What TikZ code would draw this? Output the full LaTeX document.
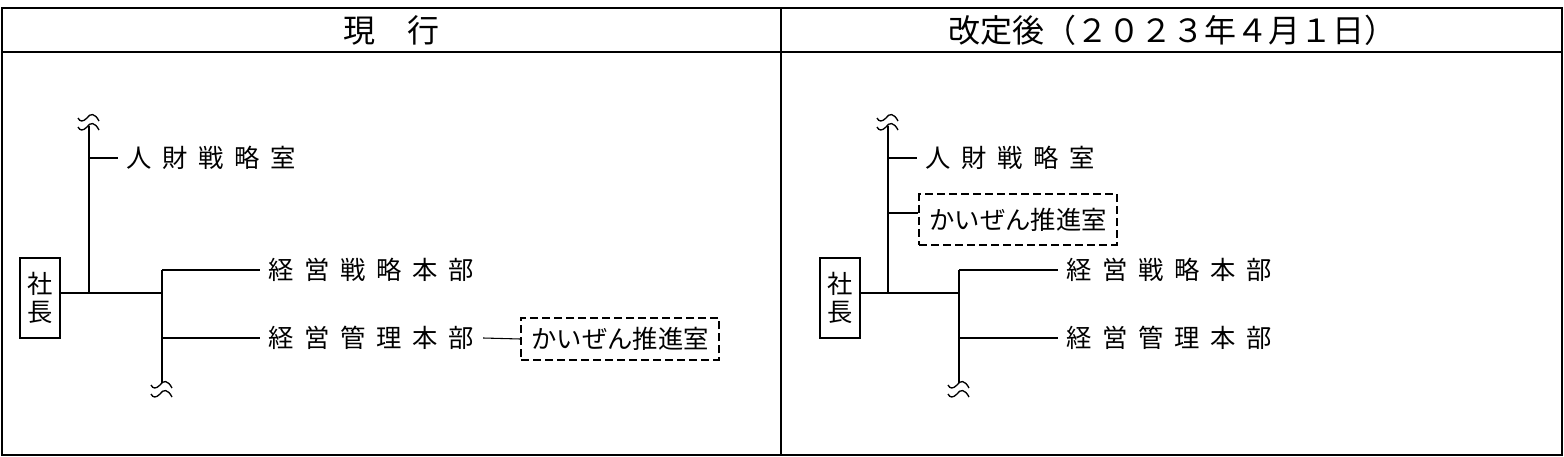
\documentclass[tikz,border=0pt]{standalone}
\usepackage{fontspec}
\newfontfamily\jpfont{Noto Sans CJK JP}
\usetikzlibrary{positioning}
\newcommand\bodyfont{\jpfont\fontsize{19pt}{21pt}\selectfont}
\newcommand\widegap{\spaceskip=8pt\relax}

\begin{document}
\begin{tikzpicture}[
    x=0.75pt, y=-0.75pt,
    font=\bodyfont,
    frame/.style={line width=1.5pt},
    link/.style={line width=0.8pt},
    boss/.style={draw, line width=1.3pt, align=center, inner sep=0pt, minimum width=30pt, minimum height=60pt},
    unit/.style={anchor=west, inner xsep=6.5pt, inner ysep=0pt, font=\bodyfont\widegap},
    newunit/.style={draw, dash pattern=on 6pt off 3pt, line width=1.5pt, minimum width=148pt, inner sep=0pt},
    head/.style={font=\jpfont\fontsize{24pt}{28pt}\selectfont},
    brk/.pic={
      \foreach \dy in {0,9}
        \draw[line width=1pt] (-11,\dy) .. controls (-9,\dy+4) and (-6,\dy+4) .. (-2,\dy) .. controls (1,\dy-5) and (6,\dy-5) .. (10,\dy+3);
    }
  ]
    \useasboundingbox (0,0) rectangle (1564,457);
    \draw[frame] (2,8) rectangle (1562,455);
    \draw[line width=2pt] (2,52) -- (1562,52);
    \draw[frame] (781,8) -- (781,455);
    \node[head] (headL) at (391,30) {現　行};
    \node[head] (headR) at (1172,30) {改定後（２０２３年４月１日）};

    % current
    \node[boss] (bossL) at (40,298) {社\\長};
    \coordinate (jL) at (89,293);
    \coordinate (tL) at (89,126);
    \coordinate (kL) at (162,293);
    \coordinate (bL) at (162,383);
    \node[unit] (hrL) at (118,158) {人 財 戦 略 室};
    \node[unit] (spL) at (260,270) {経 営 戦 略 本 部};
    \node[unit] (mgL) at (260,338) {経 営 管 理 本 部};
    \node[newunit, minimum height=31.5pt] (kzL) at (620,339) {かいぜん推進室};
    \draw[link] (bossL.east |- jL) -- (kL);
    \draw[link] (jL) -- (tL);
    \draw[link] (jL |- hrL) -- (hrL.west);
    \draw[link] (kL |- spL) -- (bL);
    \draw[link] (kL |- spL) -- (spL.west);
    \draw[link] (kL |- mgL) -- (mgL.west);
    \draw[link] (mgL.east) -- (kzL.west);
    \pic at (89,118) {brk};
    \pic at (162,385) {brk};

    % revised
    \node[boss] (bossR) at (840,298) {社\\長};
    \coordinate (jR) at (888,293);
    \coordinate (tR) at (888,126);
    \coordinate (kR) at (959,293);
    \coordinate (bR) at (959,383);
    \coordinate (kzR-in) at (888,213);
    \node[unit] (hrR) at (917,158) {人 財 戦 略 室};
    \node[newunit, minimum height=38pt] (kzR) at (1018,219.5) {かいぜん推進室};
    \node[unit] (spR) at (1058,270) {経 営 戦 略 本 部};
    \node[unit] (mgR) at (1058,338) {経 営 管 理 本 部};
    \draw[link] (bossR.east |- jR) -- (kR);
    \draw[link] (jR) -- (tR);
    \draw[link] (jR |- hrR) -- (hrR.west);
    \draw[link] (kzR-in) -- (kzR-in -| kzR.west);
    \draw[link] (kR |- spR) -- (bR);
    \draw[link] (kR |- spR) -- (spR.west);
    \draw[link] (kR |- mgR) -- (mgR.west);
    \pic at (888,118) {brk};
    \pic at (959,385) {brk};
  \end{tikzpicture}
\end{document}
